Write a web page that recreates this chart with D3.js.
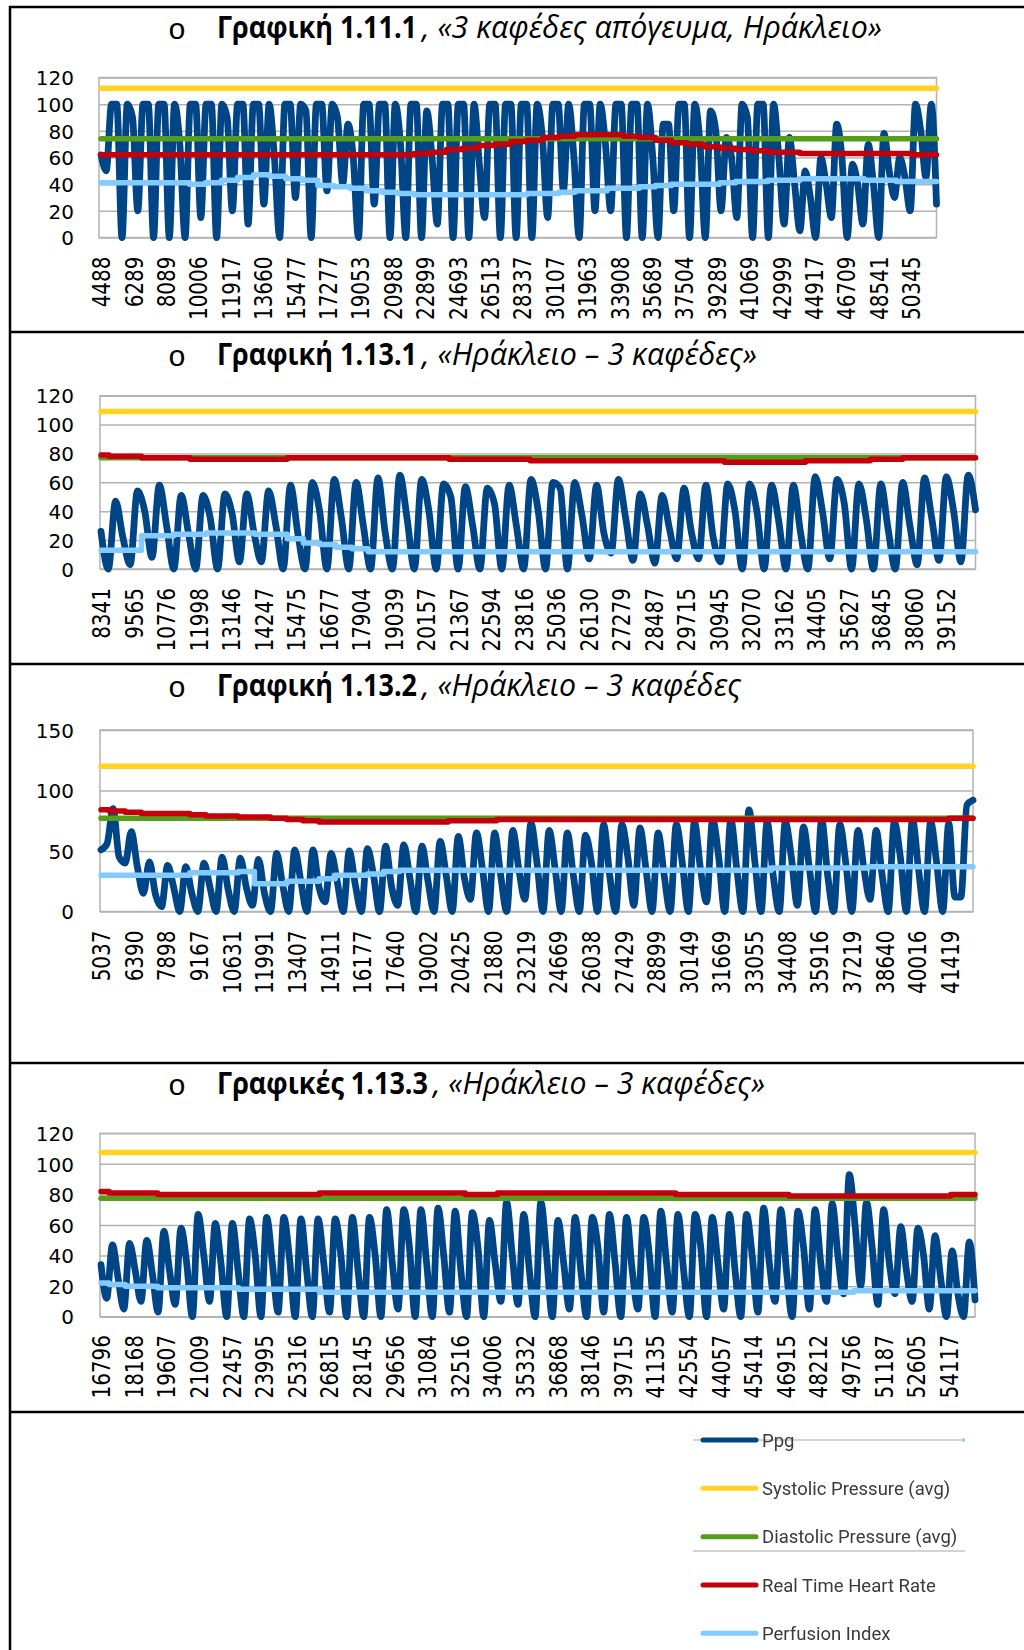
<!DOCTYPE html>
<html>
<head>
<meta charset="utf-8">
<script src="https://cdn.jsdelivr.net/npm/d3@7"></script>
<style>
  html, body { margin: 0; padding: 0; background: #fff; }
  svg { display: block; }
</style>
</head>
<body>
<svg id="page" width="1024" height="1650"></svg>
<script>
// ---------------------------------------------------------------------------
// Series names and colours (legend order = drawing order)
// ---------------------------------------------------------------------------
const seriesNames = ["Ppg", "Systolic Pressure (avg)", "Diastolic Pressure (avg)", "Real Time Heart Rate", "Perfusion Index"];
const seriesColors = ["#004586", "#ffd320", "#579d1c", "#c5000b", "#83caff"];

// ---------------------------------------------------------------------------
// Chart 1.11.1 – 3 coffees, afternoon, Heraklion
// ---------------------------------------------------------------------------
const title1 = ["Γραφική 1.11.1", ", «3 καφέδες απόγευμα, Ηράκλειο»"];
const yTicks1 = [0, 20, 40, 60, 80, 100, 120];
const xLabels1 = ["4488","6289","8089","10006","11917","13660","15477","17277","19053","20988","22899","24693","26513",
  "28337","30107","31963","33908","35689","37504","39289","41069","42999","44917","46709","48541","50345"];
// Ppg: start value, then trough / peak / shoulder for every pulse
const ppg1 = [62,
  50,100,100, 0,100,90, 20,100,100, 0,100,100, 0,100,70,
  0,100,100, 15,100,100, 0,100,90, 20,100,100, 10,100,100,
  25,100,60, 0,100,100, 30,100,95, 0,100,100, 35,100,90,
  40,85,60, 0,100,100, 25,100,100, 0,100,70, 0,100,100,
  0,95,60, 10,100,100, 0,100,100, 0,100,55, 15,100,100,
  0,100,100, 0,100,100, 0,100,75, 15,100,100, 35,100,60,
  0,100,100, 20,100,70, 20,100,100, 0,100,100, 0,100,60,
  0,85,85, 20,100,100, 0,100,70, 0,95,80, 20,75,60,
  15,100,90, 0,100,100, 0,100,60, 10,75,40, 5,50,30,
  0,60,40, 15,85,60, 0,55,40, 10,70,40, 0,78,50,
  30,60,45, 20,100,80, 45,100,25];
const systolic1 = [112, 112];
const diastolic1 = [74, 74];
const heartRate1 = [62,62,62,62,62,62,62,62,62,62,62,62,62,62,62,62,62,62,62,62,
  63,64,66,67,69,70,72,73,75,76,77,77,77,76,75,73,71,70,68,67,66,65,64,64,63,63,63,63,63,63,63,62,62];
const perfusion1 = [41,41,41,41,41,41,40,41,43,45,47,46,44,43,39,38,37,35,34,33,
  32,32,32,32,32,32,32,33,33,34,35,35,37,37,38,39,40,40,40,41,42,42,43,43,44,44,44,44,43,43,42,42,42];

// ---------------------------------------------------------------------------
// Chart 1.13.1 – Heraklion, 3 coffees
// ---------------------------------------------------------------------------
const title2 = ["Γραφική 1.13.1", ", «Ηράκλειο – 3 καφέδες»"];
const yTicks2 = [0, 20, 40, 60, 80, 100, 120];
const xLabels2 = ["8341","9565","10776","11998","13146","14247","15475","16677","17904","19039","20157","21367","22594",
  "23816","25036","26130","27279","28487","29715","30945","32070","33162","34405","35627","36845","38060","39152"];
const ppg2 = [26,
  0,47,22, 3,54,40, 8,58,30, 0,51,25, 0,51,35,
  0,52,38, 5,52,25, 5,54,30, 0,58,25, 0,60,40,
  0,62,35, 0,60,30, 0,63,25, 0,65,35, 0,62,40,
  0,59,50, 0,57,30, 0,56,45, 0,58,30, 0,62,40,
  0,60,56, 0,60,37, 7,58,25, 11,62,35, 6,52,30,
  4,51,28, 7,56,26, 7,58,22, 5,59,40, 0,59,40,
  0,58,33, 0,58,25, 0,64,40, 7,62,45, 0,59,35,
  0,59,28, 0,60,30, 3,63,35, 6,64,40, 5,65,41];
const systolic2 = [109, 109];
const diastolic2 = [77, 77];
const heartRate2 = [79,78,78,77,77,77,76,76,76,76,76,76,77,77,77,77,77,77,77,77,77,77,
  76,76,76,76,76,75,75,75,75,75,75,75,75,75,75,75,75,74,74,74,74,74,75,75,75,75,76,76,77,77,77,77,77];
const perfusion2 = [13,13,13,23,23,24,24,25,25,25,24,24,21,18,17,15,14,
  12,12,12,12,12,12,12,12,12,12,12,12,12,12,12,12,12,12,12,12,12,12,12,12,12,12,12,12,12,12,12,12,12,12,12,12,12,12];

// ---------------------------------------------------------------------------
// Chart 1.13.2 – Heraklion, 3 coffees
// ---------------------------------------------------------------------------
const title3 = ["Γραφική 1.13.2", ", «Ηράκλειο – 3 καφέδες"];
const yTicks3 = [0, 50, 100, 150];
const xLabels3 = ["5037","6390","7898","9167","10631","11991","13407","14911","16177","17640","19002","20425","21880",
  "23219","24669","26038","27429","28899","30149","31669","33055","34408","35916","37219","38640","40016","41419"];
const ppg3 = [51,
  56,85,45, 40,66,37, 15,41,14, 4,38,20, 0,37,15,
  0,40,20, 0,45,18, 0,44,20, 5,43,15, 0,48,22,
  0,51,25, 0,51,20, 8,48,25, 0,50,22, 0,52,30,
  0,54,20, 5,55,28, 0,54,25, 0,58,30, 0,62,28,
  10,65,35, 0,65,30, 0,67,35, 10,73,40, 0,67,35,
  0,65,30, 0,63,40, 0,72,30, 0,72,45, 5,69,35,
  0,65,30, 0,72,40, 0,74,35, 8,76,45, 0,76,35,
  0,84,40, 0,74,30, 0,74,45, 5,70,35, 0,76,30,
  0,72,40, 0,67,35, 10,67,30, 0,74,45, 0,76,35,
  0,74,40, 0,73,12, 12,88,92];
const systolic3 = [120, 120];
const diastolic3 = [77, 77];
const heartRate3 = [84,83,82,81,81,81,80,79,79,78,78,77,76,75,74,74,74,74,74,74,74,74,75,75,75,
  76,76,76,76,76,76,76,76,76,76,76,76,76,76,76,76,76,76,76,76,76,76,76,76,76,76,76,76,77,77];
const perfusion3 = [30,30,30,30,30,30,32,32,32,33,23,23,25,25,27,30,30,31,33,
  34,34,34,34,34,34,34,34,34,34,34,34,34,34,34,34,34,34,34,34,34,34,34,36,36,36,36,36,36,37,37,37,37,37,37,37];

// ---------------------------------------------------------------------------
// Charts 1.13.3 – Heraklion, 3 coffees
// ---------------------------------------------------------------------------
const title4 = ["Γραφικές 1.13.3", ", «Ηράκλειο – 3 καφέδες»"];
const yTicks4 = [0, 20, 40, 60, 80, 100, 120];
const xLabels4 = ["16796","18168","19607","21009","22457","23995","25316","26815","28145","29656","31084","32516","34006",
  "35332","36868","38146","39715","41135","42554","44057","45414","46915","48212","49756","51187","52605","54117"];
const ppg4 = [34,
  12,47,25, 5,48,30, 10,50,28, 3,56,30, 8,58,35,
  0,67,40, 10,61,35, 0,61,30, 0,64,40, 0,65,35,
  3,65,38, 0,64,30, 0,64,35, 3,64,40, 0,65,30,
  0,65,40, 0,70,35, 5,70,45, 0,70,35, 0,71,40,
  3,69,30, 0,68,45, 0,63,35, 10,75,40, 8,67,30,
  0,75,40, 0,63,35, 5,65,30, 0,65,45, 3,67,35,
  0,65,30, 5,65,40, 0,69,35, 3,67,30, 0,67,45,
  0,65,35, 5,67,30, 0,67,40, 3,71,35, 10,70,30,
  0,69,45, 5,70,35, 10,74,40, 15,93,60, 20,75,45,
  8,70,35, 15,59,30, 10,58,40, 5,53,25, 0,43,15,
  0,49,11];
const systolic4 = [107.5, 107.5];
const diastolic4 = [77.5, 77.5];
const heartRate4 = [82,81,81,81,80,80,80,80,80,80,80,80,80,80,81,81,81,81,81,81,81,81,81,80,80,
  81,81,81,81,81,81,81,81,81,81,81,80,80,80,80,80,80,80,79,79,79,79,79,79,79,79,79,79,80,80];
const perfusion4 = [22,21,20,20,19,19,19,19,19,18,18,18,18,18,
  16,16,16,16,16,16,16,16,16,16,16,16,16,16,16,16,16,16,16,16,16,16,16,16,16,16,16,16,16,16,16,16,16,
  17,17,17,17,17,17,17,17];

// ---------------------------------------------------------------------------
// Assemble panels (data) and their placement on the page (layout)
// ---------------------------------------------------------------------------
const panels = [
  { title: title1, yTicks: yTicks1, labels: xLabels1, series: [ppg1, systolic1, diastolic1, heartRate1, perfusion1] },
  { title: title2, yTicks: yTicks2, labels: xLabels2, series: [ppg2, systolic2, diastolic2, heartRate2, perfusion2] },
  { title: title3, yTicks: yTicks3, labels: xLabels3, series: [ppg3, systolic3, diastolic3, heartRate3, perfusion3] },
  { title: title4, yTicks: yTicks4, labels: xLabels4, series: [ppg4, systolic4, diastolic4, heartRate4, perfusion4] }
];

const layout = [
  { left: 99,  right: 936.5, top: 77.5,   bottom: 237.5,  x0: 101, step: 32.4,  titleBase: 37.5,   boldEnd: 417, titleEnd: 882, labelTop: 256.5 },
  { left: 100, right: 975.5, top: 395.7,  bottom: 569,    x0: 101, step: 32.5,  titleBase: 365,    boldEnd: 417, titleEnd: 757, labelTop: 588 },
  { left: 100, right: 973,   top: 730,    bottom: 911.5,  x0: 101, step: 32.65, titleBase: 696,    boldEnd: 417, titleEnd: 741, labelTop: 930.5 },
  { left: 100, right: 975,   top: 1133.3, bottom: 1316.7, x0: 101, step: 32.6,  titleBase: 1094.3, boldEnd: 428, titleEnd: 765, labelTop: 1335 }
];

const svg = d3.select("#page");
const gridColor = "#b3b3b3";
const labelFont = "'DejaVu Sans', sans-serif";
const titleFont = "'Open Sans', 'Noto Sans', sans-serif";

// outer frame: left rule, top rule and the separators between the charts
const frame = svg.append("g").attr("stroke", "#000").attr("stroke-width", 2.5);
frame.append("line").attr("x1", 10).attr("x2", 10).attr("y1", 6).attr("y2", 1650);
[7, 332, 664, 1063, 1412].forEach(yy =>
  frame.append("line").attr("x1", 9).attr("x2", 1024).attr("y1", yy).attr("y2", yy));

function drawPanel(p, L) {
  const g = svg.append("g");

  // ---- title: list bullet, bold caption number, italic description
  g.append("text")
    .attr("x", 177).attr("y", L.titleBase + 1)
    .attr("text-anchor", "middle")
    .style("font-family", "'Liberation Mono', monospace")
    .style("font-size", "30px")
    .text("o");
  // italic part sets the type size, the bold caption is fitted to its own run
  const italStart = L.boldEnd + 5;
  const ital = g.append("text")
    .attr("x", italStart).attr("y", L.titleBase)
    .style("font-family", titleFont).style("font-style", "italic")
    .style("font-size", "24px").attr("fill", "#000")
    .text(p.title[1]);
  const fs = 24 * (L.titleEnd - italStart) / ital.node().getComputedTextLength();
  ital.style("font-size", fs.toFixed(2) + "px");
  g.append("text")
    .attr("x", 217).attr("y", L.titleBase)
    .style("font-family", titleFont).style("font-weight", "700")
    .style("font-size", fs.toFixed(2) + "px").attr("fill", "#000")
    .attr("textLength", L.boldEnd - 217)
    .attr("lengthAdjust", "spacingAndGlyphs")
    .text(p.title[0]);

  // ---- scales
  const span = (L.right - L.x0) / L.step;            // run length in label intervals
  const yMax = d3.max(p.yTicks);
  const x = d3.scaleLinear().domain([0, span]).range([L.x0, L.right]);
  const y = d3.scaleLinear().domain([0, yMax]).range([L.bottom, L.top]);

  // ---- y axis with gridlines
  const yAxis = d3.axisLeft(y)
    .tickValues(p.yTicks)
    .tickSize(-(L.right - L.left))
    .tickFormat(d3.format("d"));
  const ya = g.append("g").attr("transform", `translate(${L.left},0)`).call(yAxis);
  ya.select(".domain").remove();
  ya.selectAll(".tick line").attr("stroke", gridColor).attr("stroke-width", 1.5);
  ya.selectAll(".tick text")
    .attr("x", -(L.left - 74))
    .attr("dy", "0.36em")
    .style("font-family", labelFont)
    .style("font-size", "20px")
    .attr("fill", "#000");

  // plot-area frame
  g.append("rect")
    .attr("x", L.left).attr("y", L.top)
    .attr("width", L.right - L.left).attr("height", L.bottom - L.top)
    .attr("fill", "none").attr("stroke", gridColor).attr("stroke-width", 1.5);

  // ---- x axis: category labels, rotated, reading upward
  const xAxis = d3.axisBottom(x)
    .tickValues(d3.range(p.labels.length))
    .tickFormat(i => p.labels[i])
    .tickSize(0);
  const xa = g.append("g").attr("transform", `translate(0,${L.bottom})`).call(xAxis);
  xa.select(".domain").remove();
  xa.selectAll(".tick text")
    .attr("x", 0).attr("y", 0).attr("dy", "0.36em")
    .attr("transform", `translate(0,${L.labelTop - L.bottom}) scale(1.2,1) rotate(-90)`)
    .attr("text-anchor", "end")
    .style("font-family", labelFont)
    .style("font-size", "20px")
    .attr("fill", "#000");

  // ---- series
  const curves = [d3.curveMonotoneX, d3.curveLinear, d3.curveLinear, d3.curveStep, d3.curveStep];
  const widths = [6.8, 5.5, 5.5, 5.5, 5.5];
  p.series.forEach((vals, s) => {
    const n = vals.length;
    const line = d3.line()
      .x((d, i) => x(i * span / (n - 1)))
      .y(d => y(d))
      .curve(curves[s]);
    g.append("path")
      .datum(vals)
      .attr("d", line)
      .attr("fill", "none")
      .attr("stroke", seriesColors[s])
      .attr("stroke-width", widths[s])
      .attr("stroke-linejoin", "round")
      .attr("stroke-linecap", "round");
  });
}

panels.forEach((p, i) => drawPanel(p, layout[i]));

// ---------------------------------------------------------------------------
// Legend
// ---------------------------------------------------------------------------
const defs = svg.append("defs");
defs.append("filter").attr("id", "soft")
  .append("feGaussianBlur").attr("stdDeviation", 0.45);

const legend = svg.append("g").attr("filter", "url(#soft)");
// thin rules that run across the legend block
legend.append("line").attr("x1", 693).attr("x2", 965).attr("y1", 1440).attr("y2", 1440)
  .attr("stroke", "#c4c4c4").attr("stroke-width", 1.5);
legend.append("line").attr("x1", 693).attr("x2", 965).attr("y1", 1551).attr("y2", 1551)
  .attr("stroke", "#c4c4c4").attr("stroke-width", 1.5);
legend.append("line").attr("x1", 962).attr("x2", 965).attr("y1", 1440).attr("y2", 1440)
  .attr("stroke", seriesColors[4]).attr("stroke-width", 3);

const rowY = d3.scaleLinear().domain([0, seriesNames.length - 1]).range([1440, 1633.3]);
const items = legend.selectAll("g.item").data(seriesNames).join("g").attr("class", "item")
  .attr("transform", (d, i) => `translate(0,${rowY(i)})`);
items.append("line")
  .attr("x1", 703).attr("x2", 756).attr("y1", 0).attr("y2", 0)
  .attr("stroke", (d, i) => seriesColors[i])
  .attr("stroke-width", 5)
  .attr("stroke-linecap", "round");
items.append("text")
  .attr("x", 762).attr("y", 0).attr("dy", "0.36em")
  .style("font-family", "Roboto, 'Open Sans', sans-serif")
  .style("font-size", "18.5px")
  .attr("fill", "#3a3a3a")
  .text(d => d);
</script>
</body>
</html>
